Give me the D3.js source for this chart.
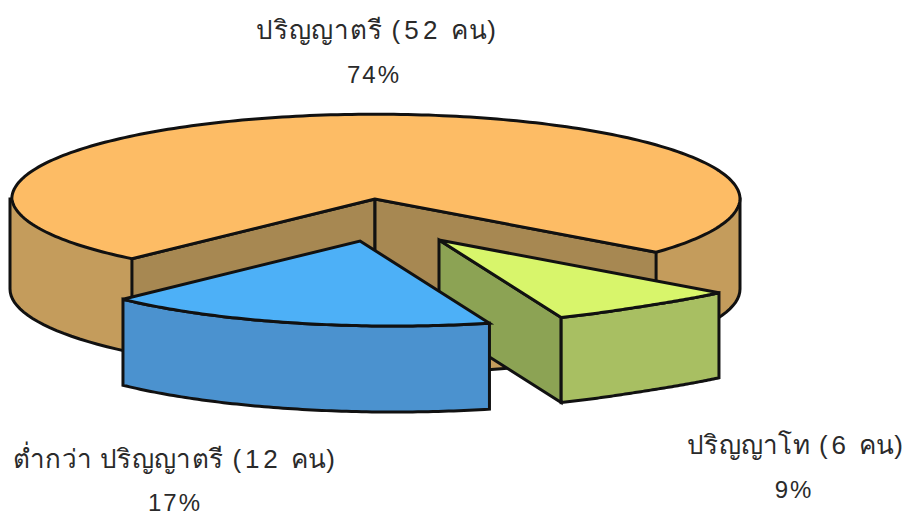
<!DOCTYPE html>
<html><head><meta charset="utf-8">
<script src="https://cdnjs.cloudflare.com/ajax/libs/d3/7.8.5/d3.min.js"></script>
<style>html,body{margin:0;background:#fff}svg{display:block}text{font-family:"Liberation Sans","DejaVu Sans","Noto Sans",sans-serif;fill:#2a2a2a}</style>
</head><body><svg id="c" width="907" height="515"></svg>
<script>
// data
const categories = ["ปริญญาตรี", "ต่ำกว่า ปริญญาตรี", "ปริญญาโท"];
const people = [52, 12, 6];
const percents = ["74%", "17%", "9%"];

// view geometry
const R = 365, r = 85, deg = Math.PI / 180, W = 907, H = 515;
const svg = d3.select("#c");
const pie = d3.pie().sortValues(d3.ascending).startAngle(129 * deg).endAngle((129 + 360) * deg);
const arcs = pie(people);
// pie angle (degrees clockwise from 3 o'clock) -> drawn angle, a small perspective correction
const view = d3.scaleLinear().domain([30, 70, 135, 420]).range([30, 70, 137, 420]);
const toT = a => view(a / deg - 90);
const sx = d3.scaleLinear().domain([-1, 1]).range([-R, R]);
const sy = d3.scaleLinear().domain([-1, 1]).range([-r, r]);
const pt = (c, t, k, d = 0) => [c[0] + sx(k * Math.cos(t * deg)), c[1] + sy(k * Math.sin(t * deg)) + d];
const line = d3.line();
const sample = (t0, t1, n = 80) => d3.range(n + 1).map(i => t0 + (t1 - t0) * i / n);

const style = {
  0: {apex: [375, 199], depth: 90, top: "#fdbc65", wall: "#c49c5c", inner: "#a78852",
      k: d3.scaleLinear().domain([133.5, 180, 360, 399]).range([.968, .995, 1, .993]).clamp(true)},
  1: {apex: [360, 241], depth: 86, top: "#4db0f7", wall: "#4b92cf",
      k: u => d3.interpolateBasis([1.03, .975, .944])(u)},
  2: {apex: [439, 240], depth: 85, top: "#d8f56b", wall: "#a8bf62", inner: "#8ca354",
      k: u => d3.interpolateBasis([.987, .95, .972])(u)}
};
const ink = {stroke: "#111", "stroke-width": 3, "stroke-linejoin": "miter"};
function draw(d, fill) {
  const p = svg.append("path").attr("d", d).attr("fill", fill);
  Object.entries(ink).forEach(([a, v]) => p.attr(a, v));
  return p;
}

// large slice: full cylinder wall first
{
  const s = style[0], a = arcs[0], t0 = toT(a.startAngle), t1 = toT(a.endAngle);
  const base = sample(0, 180).map(t => pt(s.apex, t, 1, s.depth));
  const rim = [pt(s.apex, 180, 1), pt(s.apex, 0, 1)];
  draw(line(base.concat(rim)) + "Z", s.wall);
  const top = sample(t0, t1, 240).map(t => pt(s.apex, t, s.k(t)));
  const A = top[0], B = top[top.length - 1], C = s.apex, Cb = [C[0], C[1] + s.depth];
  draw(line([C, A, [A[0], A[1] + s.depth], Cb]) + "Z", s.inner);
  draw(line([C, B, [B[0], B[1] + s.depth], Cb]) + "Z", s.inner);
  draw(line([C].concat(top)) + "Z", s.top);
}
// exploded slices
[2, 1].forEach(i => {
  const s = style[i], a = arcs[i];
  const t0 = toT(a.startAngle), t1 = toT(a.endAngle);
  const kf = t => s.k((t - t0) / (t1 - t0));
  const top = sample(t0, t1).map(t => pt(s.apex, t, kf(t)));
  const last = top[top.length - 1], low = p => [p[0], p[1] + s.depth];
  if (s.inner) draw(line([s.apex, last, low(last), low(s.apex)]) + "Z", s.inner);
  draw(line(top.concat(top.map(low).reverse())) + "Z", s.wall);
  draw(line([s.apex].concat(top)) + "Z", s.top);
});

// labels
const labelPos = [
  {x: 256, px: 374, y1: 39, y2: 83, w: 240},
  {x: 13, px: 175, y1: 468, y2: 511, w: 322},
  {x: 687, px: 794, y1: 454, y2: 498, w: 216}
];
categories.forEach((c, i) => {
  const p = labelPos[i];
  const t = svg.append("text").attr("x", p.x).attr("y", p.y1)
    .attr("font-size", 26).attr("textLength", p.w).attr("lengthAdjust", "spacing");
  t.append("tspan").text(c);
  t.append("tspan").attr("letter-spacing", 3.5).attr("dx", 9).text(`(${people[i]}`);
  t.append("tspan").attr("dx", 9).text("คน)");
  svg.append("text").attr("x", p.px).attr("y", p.y2).attr("text-anchor", "middle")
    .attr("font-size", 24).attr("letter-spacing", 2).text(percents[i]);
});
</script></body></html>
